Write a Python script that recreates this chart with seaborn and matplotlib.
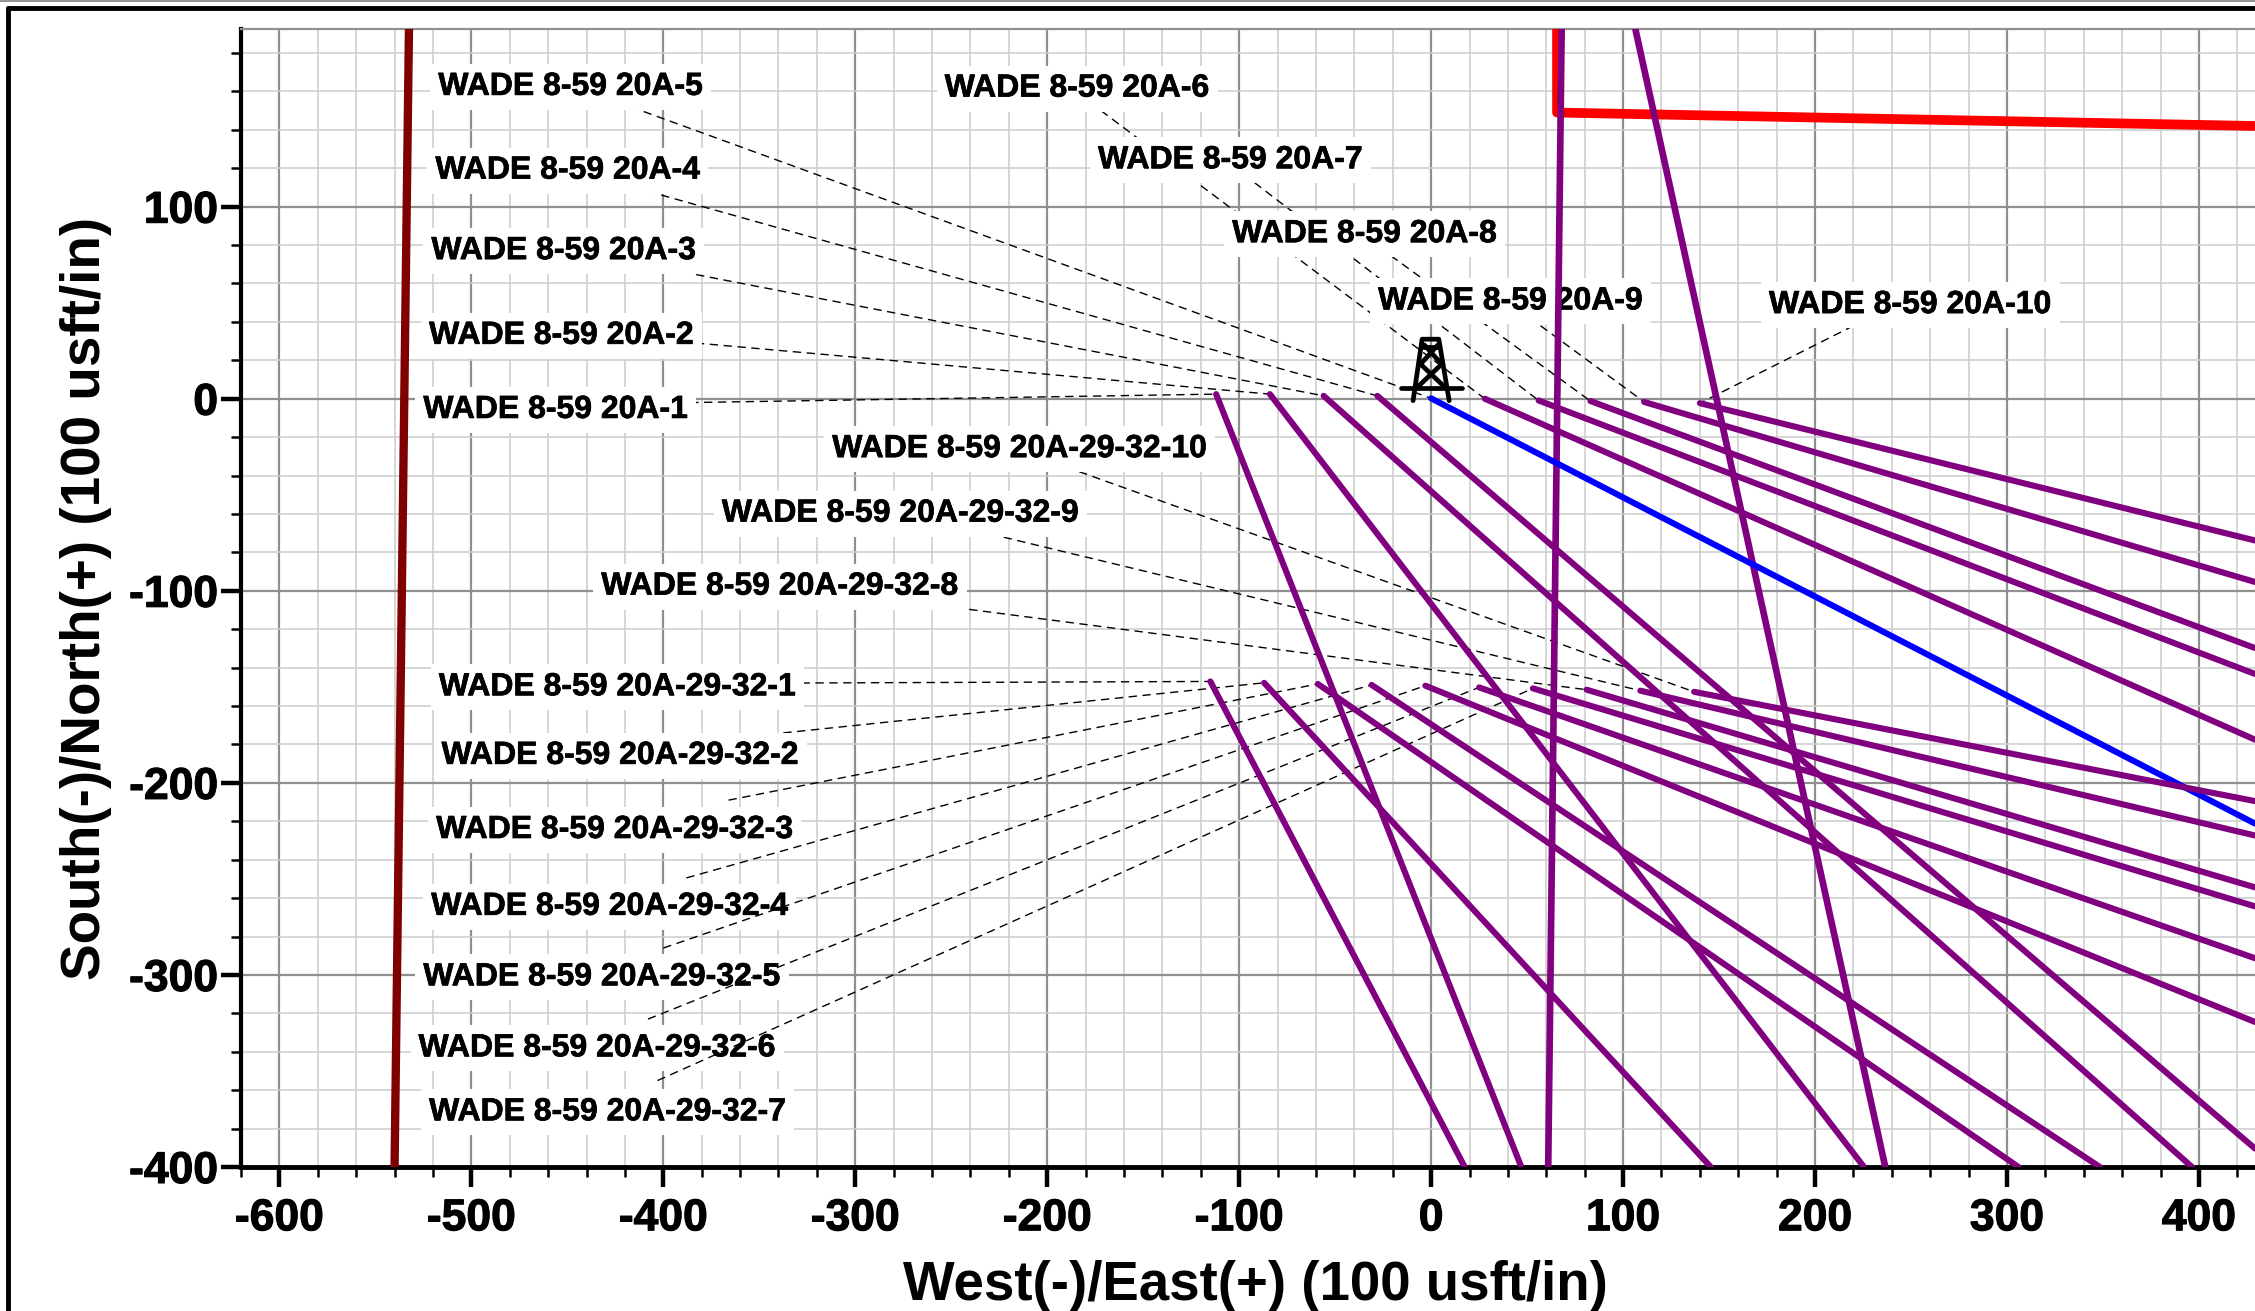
import matplotlib
matplotlib.use('Agg')
import matplotlib.pyplot as plt
import matplotlib.patheffects as pe
import seaborn as sns
import numpy as np

# well names, in the order they get drawn
WELL_NAMES = [f'WADE 8-59 20A-{i}' for i in range(1, 11)] + \
             [f'WADE 8-59 20A-29-32-{i}' for i in range(1, 11)]

# surface point and end of each well plan (100 usft/in)
START_X = [-112, -84, -56, -28, 0, 28, 56, 83, 111, 140,
           -115, -87, -59, -31, -3, 25, 53, 81, 109, 137]
START_Y = [2.4, 2.4, 1.5, 1.5, 0.2, 0, -0.9, -1.2, -1.7, -2.3,
           -147.2, -147.9, -148.5, -149, -149.4, -150.3, -150.8, -151.5, -152, -152.6]
END_X = [47, 225.5, 396.4, 429.2, 429.2, 429.2, 429.2, 429.2, 429.2, 429.2,
         17.5, 145.7, 306, 348.4, 429.2, 429.2, 429.2, 429.2, 429.2, 429.2]
END_Y = [-400, -400, -400, -390.4, -221.2, -177.5, -143.3, -129.8, -95.4, -73.8,
         -400, -400, -400, -400, -324.5, -291.3, -264.3, -254.4, -227.4, -209.5]

# label anchors (left end, baseline) and where the leader leaves the label
LABEL_X = [-525, -522, -520.8, -518.7, -517.2, -253.4, -173.5, -103.6, -27.6, 176,
           -516.9, -515.5, -518.3, -520.9, -525, -527.5, -522, -432.3, -369.5, -312]
LABEL_Y = [-10, 28.6, 72.7, 114.6, 158.2, 157.3, 120, 81.5, 46.5, 44.6,
           -154.4, -190.1, -228.7, -268.7, -305.4, -342.4, -375.7, -102, -64, -30.4]
LEADER_X = [-386, -383, -390, -408, -417, -172, -92, -21, 57, 220,
            -328, -337.5, -366, -388, -400, -408, -403, -255, -229.7, -183.3]
LEADER_Y = [-2, 29, 66, 108, 152, 150, 112.5, 74.5, 38, 38,
            -148, -174, -209, -249.5, -286, -323, -355, -107.8, -70.4, -38]

# offset wells and hard lines
OFFSET_X = [[68, 61], [106.4, 236.6]]
OFFSET_Y = [[192.5, -400], [192.5, -400]]
LEASE_X = [-532.5, -540]
LEASE_Y = [192.5, -400]
SETBACK_X = [65.6, 65.6, 429.2]
SETBACK_Y = [192.5, 149, 142]

# derrick symbol at the wellhead, one sub list per stroke
DERRICK_X = [[-15.6, 16], [-9.4, -4.7, 4, 9.4], [-4.7, 4], [-7.5, 5.5],
             [7.5, -5.5], [-5.5, 3.5], [5.5, -3.5]]
DERRICK_Y = [[5.7, 5.7], [-1, 31, 31, -1], [27, 27], [5.7, 18],
             [5.7, 18], [18, 28], [18, 28]]

XTICKS = np.arange(-600, 401, 100)
YTICKS = np.arange(-400, 101, 100)

sns.set_style('white')
plt.rcParams['font.family'] = ['Liberation Sans', 'DejaVu Sans']
plt.rcParams['axes.unicode_minus'] = False

fig = plt.figure(figsize=(22.55, 13.11), dpi=100)
ax = fig.add_axes([241 / 2255, 1 - 1167 / 1311, (2255 - 241) / 2255, (1167 - 29) / 1311])
ax.set_xlim(-620, 429.2)
ax.set_ylim(-400, 192.5)


def draw_path(xs, ys, color, lw, z):
    sns.lineplot(x=xs, y=ys, sort=False, estimator=None, color=color, linewidth=lw, ax=ax,
                 legend=False, zorder=z, solid_capstyle='round')


# grid
ax.set_xticks(XTICKS)
ax.set_yticks(YTICKS)
ax.set_xticks(np.arange(-620, 430, 20), minor=True)
ax.set_yticks(np.arange(-400, 193, 20), minor=True)
ax.grid(which='major', color='#8f8f8f', lw=1.6, zorder=0)
ax.grid(which='minor', color='#cdcdcd', lw=1.15, zorder=0)
ax.set_axisbelow(True)
ax.tick_params(which='major', length=14.5, width=3.2, color='black', left=True, bottom=True,
               labelsize=32, labelcolor='black')
ax.tick_params(axis='x', which='major', pad=8)
ax.tick_params(axis='y', which='major', pad=2)
ax.tick_params(which='minor', length=7.5, width=1.8, color='black', left=True, bottom=True)
thick = [pe.withStroke(linewidth=0.8, foreground='black')]
for lbl in ax.get_xticklabels() + ax.get_yticklabels():
    lbl.set_fontweight('bold')
    lbl.set_path_effects(thick)

ax.spines['left'].set_linewidth(3)
ax.spines['left'].set_color('black')
ax.spines['bottom'].set_linewidth(3.5)
ax.spines['bottom'].set_color('black')
ax.spines['top'].set_color('#8f8f8f')
ax.spines['top'].set_linewidth(1.6)
ax.spines['right'].set_visible(False)

ax.set_xlabel('West(-)/East(+) (100 usft/in)', fontsize=39.3, fontweight='bold', color='black',
              labelpad=15, x=0.5035)
ax.set_ylabel('South(-)/North(+) (100 usft/in)', fontsize=39.5, fontweight='bold', color='black',
              labelpad=12)

# leader then label box, one after the other so later leaders cross earlier boxes
for i, name in enumerate(WELL_NAMES):
    z = 2 + i * 0.1
    ax.plot([LEADER_X[i], START_X[i]], [LEADER_Y[i], START_Y[i]], color='black', lw=1.0,
            ls=(0, (6, 4)), zorder=z)
    ax.text(LABEL_X[i], LABEL_Y[i], name, fontsize=23, fontweight='bold', color='black',
            ha='left', va='baseline', zorder=z + 0.05,
            path_effects=[pe.withStroke(linewidth=0.5, foreground='black')],
            bbox=dict(boxstyle='square,pad=0.25', fc='white', ec='none'))

# well paths
draw_path(LEASE_X, LEASE_Y, '#800000', 6.0, 6)
draw_path(SETBACK_X, SETBACK_Y, '#ff0000', 7.0, 6)
for xs, ys in zip(OFFSET_X, OFFSET_Y):
    draw_path(xs, ys, '#800080', 4.8, 7)
for i, name in enumerate(WELL_NAMES):
    color = '#0000ff' if i == 4 else '#800080'
    draw_path([START_X[i], END_X[i]], [START_Y[i], END_Y[i]], color, 4.4, 7)

for xs, ys in zip(DERRICK_X, DERRICK_Y):
    ax.plot(xs, ys, color='black', lw=3.4, zorder=8, solid_capstyle='round')

# page frame the chart was cut from
fig.add_artist(plt.Line2D([8 / 2255, 8 / 2255], [0, 1 - 8 / 1311], color='black', lw=3.5))
fig.add_artist(plt.Line2D([8 / 2255, 1], [1 - 8 / 1311, 1 - 8 / 1311], color='black', lw=3.5))
fig.add_artist(plt.Line2D([0, 1], [1 - 0.7 / 1311, 1 - 0.7 / 1311], color='#7f7f7f', lw=1.2))

fig.savefig('out.png', dpi=100)
plt.close(fig)
